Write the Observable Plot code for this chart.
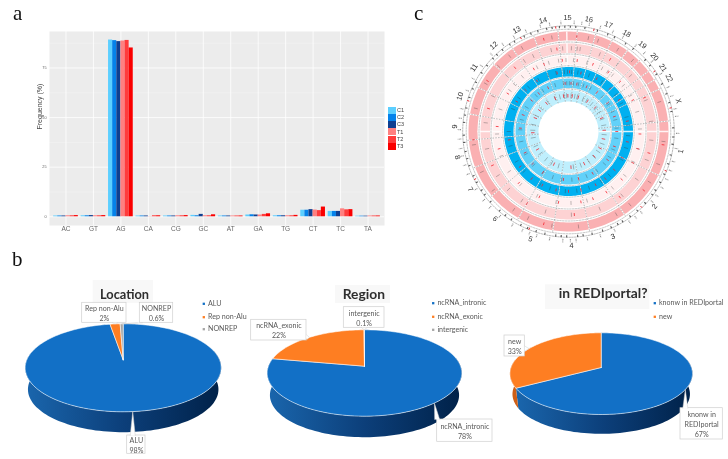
<!DOCTYPE html>
<html><head><meta charset="utf-8">
<script src="https://cdn.jsdelivr.net/npm/d3@7"></script>
<script src="https://cdn.jsdelivr.net/npm/@observablehq/plot@0.6"></script>
<style>
html,body{margin:0;padding:0;background:#fff}
#page{position:relative;width:728px;height:459px;overflow:hidden;filter:blur(0.3px)}
#page>div{position:absolute}
.letter{font:21px/22px "Liberation Serif",serif;color:#111}
.sw{position:absolute;left:388.3px;width:7.4px;height:7.2px}
.swt{position:absolute;left:397px;font:5.5px "Liberation Sans",sans-serif;color:#444;line-height:7.2px}
svg{display:block;overflow:visible}
</style></head><body>
<div id="page"></div>
<script>
// ---------- panel a: substitution frequency (%)
const substitutions = ["AC","GT","AG","CA","CG","GC","AT","GA","TG","CT","TC","TA"];
const samples = ["C1","C2","C3","T1","T2","T3"];
const sampleColors = ["#5ccfff","#0482ea","#0f3f90","#ff8080","#ff3c3c","#fa0000"];
const C1 = [0.4,0.5,89.1,0.4,0.4,0.7,0.4,0.9,0.5,3.3,2.7,0.3];
const C2 = [0.4,0.5,88.8,0.4,0.4,0.5,0.4,1.0,0.5,3.3,2.7,0.3];
const C3 = [0.4,0.6,88.3,0.4,0.4,1.2,0.4,0.9,0.5,3.6,2.7,0.3];
const T1 = [0.5,0.5,88.6,0.1,0.5,0.5,0.4,0.9,0.5,3.4,4.0,0.4];
const T2 = [0.5,0.5,88.9,0.5,0.5,0.5,0.4,1.2,0.5,3.1,3.5,0.4];
const T3 = [0.6,0.6,85.1,0.5,0.6,1.0,0.4,1.5,0.7,4.9,3.6,0.4];
const sampleValues = [C1,C2,C3,T1,T2,T3];

// ---------- panel b: pies
const locationShares = [["ALU",98,"98%"],["Rep non-Alu",2,"2%"],["NONREP",0.6,"0.6%"]];
const regionShares = [["ncRNA_intronic",78,"78%"],["ncRNA_exonic",22,"22%"],["intergenic",0.1,"0.1%"]];
const portalShares = [["knonw in\nREDIportal",67,"67%"],["new",33,"33%"]];
const sliceColors = ["#1270c6","#fe7e22","#a5a5a5"];
const wallColors = ["url(#wallBlue)","#cf5f16","#777"];

// ---------- panel c: circular map, chromosome sector widths (deg)
const chromosomes = ["1","2","3","4","5","6","7","8","9","10","11","12","13","14","15","16","17","18","19","20","21","22","X"];
const sectorWidths = [32,30,22,21,21,20,19,16,15,16,16,14,14,14,11,10.6,9.9,10.5,9,8,6,6,19];
const firstSector = 84;
const ringColors = ["#fab0b2","#fdd2d3","#fff0f0","#00b0f0","#62d1f9","#bfeffd"];
const ringEdges = [[100,91],[88,78.5],[76,67],[64.5,55],[53,43.5],[41.5,30]];
const darkSites = [
 [12,31,96,122,150,174,205,232,262,300,322,331,350,18,42,72,110,140,190,215,245,284,313],
 [8,22,48,83,110,140,178,214,238,276,312,328,348,356,2,6,36,68,96,125,158,196,226,258,295,335],
 [15,38,60,88,104,128,165,190,222,250,288,305,311,334,352,358,4,28,33,50,74,115,142,178,206,236,268,320,344],
 [3,20,34,52,76,94,118,137,160,183,208,240,270,292,318,340,356,359,9,62,84,106,147,172,198,228,256,304,330,348],
 [6,18,27,44,66,86,112,132,158,176,199,226,258,284,300,318,344,354,358,1,12,56,76,98,122,144,188,212,242,272,328],
 [4,14,24,40,58,80,95,124,146,172,196,219,246,272,281,296,325,346,353,357,10,30,50,70,110,135,160,208,232,260,310,338]];
const redSites = [
 [98,195,265,345,5,128,302],
 [105,142,210,246,320,352,30,66,176,286],
 [7,46,92,116,148,170,188,224,256,274,331,340,355,20,34,64,104,132,160,204,302],
 [12,28,100,130,153,168,192,218,234,300,328,349,1,58,44,80,116,142,180,206,262,314],
 [10,36,72,108,126,150,186,212,244,290,310,335,356,3,22,54,90,168,228,274,322],
 [16,48,88,102,134,176,204,268,306,338,352,359,6,32,68,118,154,240,292,322]];
const bandSites = [1,4,9,16,22,26,33,38,47,51,57,63,69,74,79,88,93,97,103,108,114,119,124,127,133,139,144,149,152,156,161,167,172,175,181,184,187,193,198,203,207,213,217,221,228,233,236,241,245,251,255,259,264,268,275,279,283,289,294,298,304,309,314,317,321,326,329,335,339,343,348,351,355,358];
const redBands = [14,55,77,112,136,202,243,287,333,353];
const geneSites = [3,7,11,17,24,30,38,44,50,58,66,71,78,82,91,99,106,111,116,121,126,130,138,142,146,155,163,170,176,179,183,190,197,201,205,211,219,226,231,238,247,252,257,261,266,271,277,282,292,299,307,315,323,330,337,345,350,356];

const page = document.getElementById("page");
function place(node,left,top){const d=document.createElement("div");d.style.left=left+"px";d.style.top=top+"px";d.appendChild(node);page.appendChild(d);}

// ===== panel a
const barRows = substitutions.flatMap((c,i)=>samples.map((s,j)=>({i,j,s,v:sampleValues[j][i]})));
const barWidth = 0.15, catIndex = substitutions.map((_,i)=>i);
const barPlot = Plot.plot({
  width:410,height:240,marginLeft:49,marginRight:26,marginTop:31,marginBottom:15,
  style:{background:"transparent"},
  x:{domain:[-0.6,11.6],axis:null},
  y:{domain:[-4.4,93.4],axis:null},
  color:{domain:samples,range:sampleColors},
  marks:[
    Plot.frame({fill:"#ececec",stroke:"none"}),
    Plot.ruleY([12.5,37.5,62.5,87.5],{stroke:"#fff",strokeWidth:0.4,strokeOpacity:0.7}),
    Plot.ruleY([0,25,50,75],{stroke:"#fff",strokeWidth:0.8}),
    Plot.ruleX(catIndex,{stroke:"#fff",strokeWidth:0.8}),
    Plot.rectY(barRows,{x1:d=>d.i+(d.j-3)*barWidth,x2:d=>d.i+(d.j-2)*barWidth,y1:0,y2:"v",fill:"s",inset:0}),
    Plot.axisX(catIndex,{anchor:"bottom",tickSize:0,tickPadding:0,tickFormat:i=>substitutions[i],fontSize:6.5,color:"#666",label:null,dy:1,fontFamily:"Liberation Sans"}),
    Plot.axisY([0,25,50,75],{anchor:"left",tickSize:0,tickPadding:3,fontSize:3.8,color:"#666",label:null,fontFamily:"Liberation Sans"}),
    Plot.text(["Frequency (%)"],{frameAnchor:"left",dx:-10,dy:1,rotate:-90,fontSize:7,fill:"#444",fontFamily:"Liberation Sans"})
  ]
});
place(barPlot,0,0);
samples.forEach((s,i)=>{
  const sw=document.createElement("div");sw.className="sw";sw.style.top=(106.7+i*7.2)+"px";sw.style.background=sampleColors[i];page.appendChild(sw);
  const t=document.createElement("div");t.className="swt";t.style.top=(106.9+i*7.2)+"px";t.textContent=s;page.appendChild(t);
});

// ===== panel b
const pieLayouts = [
 {shares:locationShares,cx:122.7,halfWidth:98,apex:359.3,far:36,near:52,base:431.7,
  title:{t:"Location",x:124,y:294,size:12.8,box:[92.7,280,153,303]},
  boxes:[[126.7,435,145,453.3],[81.7,302.3,126,322.3],[139.3,302.3,172.7,322.3]],
  legend:{dot:203.3,ys:[303.3,316.7,328.7]}},
 {shares:regionShares,cx:364,halfWidth:97.3,apex:365.7,far:36.4,near:50,base:436.7,
  title:{t:"Region",x:363.3,y:294,size:13.8,box:[335,285,390,303]},
  boxes:[[436.7,419,492,441.3],[250.7,319.3,306,340],[343.3,306.7,384,327.3]],
  legend:{dot:432.7,ys:[302.7,316.3,329.3]}},
 {shares:portalShares,cx:600.7,halfWidth:91.3,apex:367,far:34.7,near:47,base:433.3,
  title:{t:"in REDIportal?",x:602.7,y:293.3,size:13.8,box:[545,284.3,649.3,309]},
  boxes:[[680,407.7,722.3,439],[504,335,524.3,356]],
  legend:{dot:654.3,ys:[302.7,316.3]}}
];
const wallShrink = 0.972;
const pieMarks = [
  ()=>{const d=d3.create("svg:defs");
    d.append("linearGradient").attr("id","wallBlue").attr("x1",0).attr("x2",1).attr("y1",0).attr("y2",0)
     .html('<stop offset="0" stop-color="#1a66ad"/><stop offset="0.5" stop-color="#0c3f7a"/><stop offset="1" stop-color="#002148"/>');
    return d.node();}
];
pieLayouts.forEach(p=>{
  const {far:T,near:B,cx,apex} = p;
  const A = 2*T*B/(T+B), k = (B-T)/(B+T), rx = p.halfWidth*Math.sqrt(1-k*k);
  const rad = a=>a*Math.PI/180;
  const top = a=>{const u=Math.sin(rad(a)),v=Math.cos(rad(a)),w=1+k*v;return {x:cx+rx*u/w,y:apex-A*v/w};};
  const drop = p.base-apex-wallShrink*B;
  const bot = a=>{const u=Math.sin(rad(a)),v=Math.cos(rad(a)),w=1+k*v;return {x:cx+wallShrink*rx*u/w,y:apex-wallShrink*A*v/w+drop};};
  const arc = (a0,a1,f)=>{const n=Math.max(2,Math.ceil(Math.abs(a1-a0)/2));return d3.range(n+1).map(i=>f(a0+(a1-a0)*i/n));};
  const total = d3.sum(p.shares,d=>d[1]);
  let acc=0;
  const slices = p.shares.map((d,i)=>{const a0=acc/total*360;acc+=d[1];const a1=acc/total*360;return {name:d[0],pct:d[2],a0,a1,i};});
  // side wall
  slices.forEach(s=>{
    const l=Math.max(s.a0,78),r=Math.min(s.a1,282);
    if(r<=l) return;
    pieMarks.push(Plot.line([...arc(l,r,top),...arc(r,l,bot)],{x:"x",y:"y",fill:wallColors[s.i],stroke:"none"}));
  });
  // top face
  slices.forEach(s=>{
    const pts=[{x:cx,y:apex},...arc(s.a0,s.a1,top),{x:cx,y:apex}];
    pieMarks.push(Plot.line(pts,{x:"x",y:"y",fill:sliceColors[s.i],stroke:"#fff",strokeWidth:0.6,strokeOpacity:0.9}));
  });
  // title
  pieMarks.push(Plot.rect([p.title.box],{x1:d=>d[0],y1:d=>d[1],x2:d=>d[2],y2:d=>d[3],fill:"#f8f8f8"}));
  pieMarks.push(Plot.text([p.title.t],{x:()=>p.title.x,y:()=>p.title.y,fontSize:p.title.size,fontWeight:700,fill:"#2e2e2e",fontFamily:"Lato"}));
  // call-outs: the tip sits on the rim at the middle of the slice
  slices.forEach((s,i)=>{
    const b=p.boxes[i], tip=top((s.a0+s.a1)/2);
    const nx=Math.max(b[0],Math.min(b[2],tip.x)), ny=Math.max(b[1],Math.min(b[3],tip.y));
    const onH = ny===b[1]||ny===b[3];
    const w=[{x:nx-(onH?2.5:0),y:ny-(onH?0:2.5)},tip,{x:nx+(onH?2.5:0),y:ny+(onH?0:2.5)}];
    pieMarks.push(Plot.rect([b],{x1:d=>d[0],y1:d=>d[1],x2:d=>d[2],y2:d=>d[3],fill:"#fff",stroke:"#cfcfcf",strokeWidth:0.7}));
    pieMarks.push(Plot.line(w,{x:"x",y:"y",fill:"#fff",stroke:"#cfcfcf",strokeWidth:0.5}));
    pieMarks.push(Plot.text([s.name+"\n"+s.pct],{x:()=>(b[0]+b[2])/2,y:()=>(b[1]+b[3])/2,fontSize:7.1,lineHeight:1.38,fill:"#595959",fontFamily:"Lato"}));
  });
  // legend
  slices.forEach((s,i)=>{
    pieMarks.push(Plot.dot([s],{x:()=>p.legend.dot,y:()=>p.legend.ys[i],r:1.3,symbol:"square",fill:sliceColors[i],stroke:"none"}));
    pieMarks.push(Plot.text([s.name.replace("\n"," ")],{x:()=>p.legend.dot+4.2,y:()=>p.legend.ys[i],textAnchor:"start",fontSize:7.1,fill:"#595959",fontFamily:"Lato"}));
  });
});
place(Plot.plot({
  width:728,height:219,margin:0,style:{background:"transparent"},
  x:{domain:[0,728],axis:null},y:{domain:[240,459],range:[0,219],axis:null},
  marks:pieMarks
}),0,240);

// ===== panel c
const polar=(r,a)=>({x:r*Math.sin(a*Math.PI/180),y:-r*Math.cos(a*Math.PI/180)});
let run=firstSector;
const sectors=chromosomes.map((c,i)=>{const s={c,a0:run,a1:run+sectorWidths[i]};run=s.a1;return s;});
const sectorPts=(r1,r0,s)=>{
  const l=s.a0+0.3,h=s.a1-0.3,n=Math.ceil((h-l)/2);
  const o=d3.range(n+1).map(i=>polar(r1,l+(h-l)*i/n)), q=d3.range(n+1).map(i=>polar(r0,h-(h-l)*i/n));
  return [...o,...q].map(p=>({...p,c:s.c}));
};
const circle=r=>d3.range(0,361,2).map(a=>polar(r,a));
const radial=(a,r0,r1)=>({x1:polar(r0,a).x,y1:polar(r0,a).y,x2:polar(r1,a).x,y2:polar(r1,a).y});
const circMarks=[];
ringEdges.forEach((e,i)=>{
  circMarks.push(Plot.line(sectors.flatMap(s=>sectorPts(e[0],e[1],s)),{x:"x",y:"y",z:"c",fill:ringColors[i],stroke:"none"}));
});
// pale centromere-like stripes
circMarks.push(Plot.link([radial(90,30,100),radial(270,67,91),radial(359,67,100)],{x1:"x1",y1:"y1",x2:"x2",y2:"y2",stroke:"#fff",strokeWidth:1.5,strokeOpacity:0.85}));
// dashed guide circles and sector separators
[102.3,105.8,89.5,77.5,65.7,54.2,42.7].forEach((r,i)=>{
  circMarks.push(Plot.line(circle(r),{x:"x",y:"y",stroke:i===1?"#555":"#777",strokeWidth:0.5,strokeDasharray:"1.6 1.2",strokeOpacity:0.8}));
});
circMarks.push(Plot.link(sectors.map(s=>radial(s.a0,30,102.3)),{x1:"x1",y1:"y1",x2:"x2",y2:"y2",stroke:"#555",strokeWidth:0.5,strokeDasharray:"1.5 1.3",strokeOpacity:0.8}));
// sites in each ring
ringEdges.forEach((e,i)=>{
  const mid=(e[0]+e[1])/2, span=(e[0]-e[1])*0.22;
  circMarks.push(Plot.link(darkSites[i].map(a=>radial(a,mid-span,mid+span)),{x1:"x1",y1:"y1",x2:"x2",y2:"y2",stroke:"#333",strokeWidth:0.5,strokeOpacity:0.65}));
  circMarks.push(Plot.link(redSites[i].map(a=>radial(a,mid-span*0.7,mid+span*0.7)),{x1:"x1",y1:"y1",x2:"x2",y2:"y2",stroke:"#f5222d",strokeWidth:0.8}));
});
// ideogram and tiny gene marks
circMarks.push(Plot.link(bandSites.map(a=>radial(a,103.7,105.9)),{x1:"x1",y1:"y1",x2:"x2",y2:"y2",stroke:"#111",strokeWidth:1.1,strokeOpacity:0.7}));
circMarks.push(Plot.link(redBands.map(a=>radial(a,103.7,105.9)),{x1:"x1",y1:"y1",x2:"x2",y2:"y2",stroke:"#e8202a",strokeWidth:1}));
circMarks.push(Plot.link(geneSites.map(a=>radial(a,107.5,111)),{x1:"x1",y1:"y1",x2:"x2",y2:"y2",stroke:"#222",strokeWidth:1.1,strokeOpacity:0.5,strokeDasharray:"1 0.6"}));
// chromosome names
const chrLabels=sectors.map(s=>{const a=(s.a0+s.a1)/2,n=((a%360)+360)%360,p=polar(114,a);
  return {c:s.c,x:p.x,y:p.y,rot:(n>95&&n<265)?n+180:(n>=265?n-360:n)};});
circMarks.push(Plot.text(chrLabels,{x:"x",y:"y",text:"c",rotate:"rot",fontSize:7.4,fill:"#333",fontFamily:"Liberation Sans"}));
place(Plot.plot({
  width:240,height:240,margin:0,style:{background:"transparent"},
  x:{domain:[-120,120],axis:null},y:{domain:[-120,120],range:[0,240],axis:null},
  marks:circMarks
}),448,11);

// ===== panel letters
[["a",13,2],["b",12,248],["c",414,2]].forEach(([t,l,tp])=>{
  const d=document.createElement("div");d.className="letter";d.textContent=t;d.style.left=l+"px";d.style.top=tp+"px";page.appendChild(d);
});
</script>
</body></html>
